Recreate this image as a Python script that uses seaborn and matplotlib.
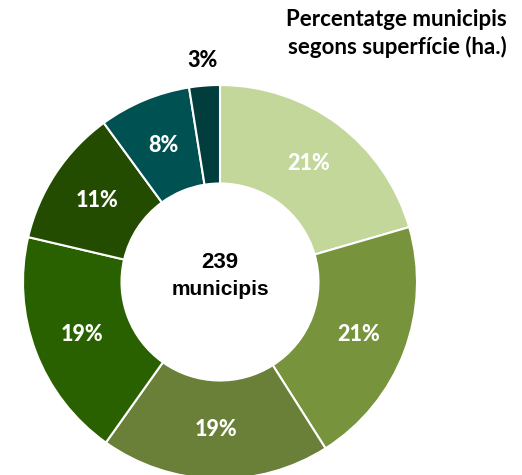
import matplotlib
matplotlib.use("Agg")
import matplotlib.pyplot as plt
import seaborn as sns
import numpy as np
from matplotlib import font_manager

categories = ["A", "B", "C", "D", "E", "F", "G"]
counts = [49, 49, 45, 45, 27, 18, 6]
pct_labels = ["21%", "21%", "19%", "19%", "11%", "8%", "3%"]
colors = ["#C4D79B", "#77933C", "#6A7F37", "#296100", "#244C00", "#005152", "#003D3C"]
title_lines = ["Percentatge municipis", "segons superfície (ha.)"]
center_lines = ["239", "municipis"]

sns.set_theme(style="white")
avail = {f.name for f in font_manager.fontManager.ttflist}
main_font = ["Lato", "DejaVu Sans"] if "Lato" in avail else ["DejaVu Sans"]
narrow = "Liberation Sans Narrow" if "Liberation Sans Narrow" in avail else "Liberation Sans"
plt.rcParams["font.family"] = main_font

fig = plt.figure(figsize=(5.22, 4.75), dpi=100)
ax = fig.add_axes([23 / 522, -4 / 475, 394 / 522, 394 / 475])

wedges, _ = ax.pie(counts, colors=colors, startangle=90, counterclock=False,
                   radius=1.0, wedgeprops=dict(width=0.5, edgecolor="white", linewidth=1.5),
                   frame=False)
ax.set_xlim(-1, 1)
ax.set_ylim(-1, 1)
ax.set_aspect("equal")
ax.axis("off")

total = sum(counts)
cum = 0
for i, (c, lab) in enumerate(zip(counts, pct_labels)):
    mid = 90 - 360 * (cum + c / 2) / total
    cum += c
    if i == len(counts) - 1:
        r = 1.13
        col = "black"
    else:
        r = 0.75
        col = "white"
    ax.text(r * np.cos(np.radians(mid)), r * np.sin(np.radians(mid)), lab,
            ha="center", va="center", color=col, fontsize=15.5, fontweight="black")

ax.text(0, 0.10, center_lines[0], ha="center", va="center", fontsize=16, fontweight="bold",
        family=narrow, color="black")
ax.text(0, -0.04, center_lines[1], ha="center", va="center", fontsize=15, fontweight="bold",
        family=narrow, color="black")

fig.text(507 / 522, 1 - 20 / 475, title_lines[0], ha="right", va="center",
         fontsize=16, fontweight="bold", color="black")
fig.text(507 / 522, 1 - 47 / 475, title_lines[1], ha="right", va="center",
         fontsize=16, fontweight="bold", color="black")

fig.savefig("out.png", dpi=100, facecolor="white")
